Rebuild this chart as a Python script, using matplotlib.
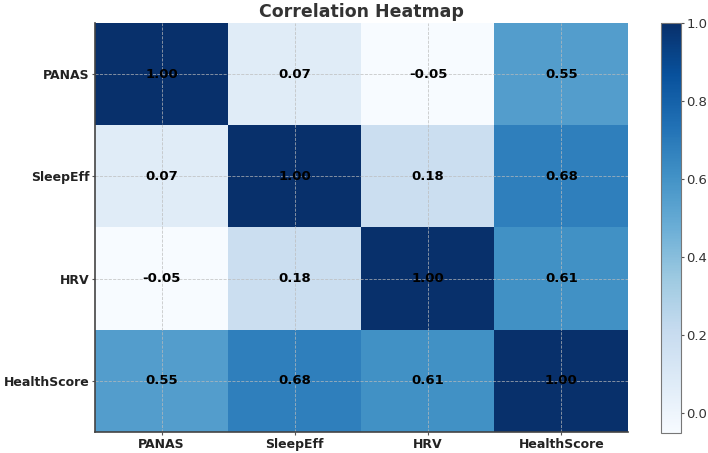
import numpy as np
import matplotlib
matplotlib.use("Agg")
from matplotlib import pyplot as plt

labels = ["PANAS", "SleepEff", "HRV", "HealthScore"]
corr = np.array([
    [1.00, 0.07, -0.05, 0.55],
    [0.07, 1.00, 0.18, 0.68],
    [-0.05, 0.18, 1.00, 0.61],
    [0.55, 0.68, 0.61, 1.00],
])

fig = plt.figure(figsize=(7.08, 4.53), dpi=100)
ax = fig.add_axes([95 / 708, 21 / 453, 533 / 708, 409 / 453])
cax = fig.add_axes([661 / 708, 20 / 453, 20 / 708, 410 / 453])

im = ax.imshow(corr, cmap="Blues", vmin=corr.min(), vmax=1.0, aspect="auto")

# 数值标注
for i in range(len(labels)):
    for j in range(len(labels)):
        ax.text(j, i, f"{corr[i, j]:.2f}", ha="center", va="center",
                color="black", fontsize=9.5, fontweight="bold")

ax.set_xticks(range(len(labels)))
ax.set_yticks(range(len(labels)))
ax.set_xticklabels(labels, fontsize=9, fontweight="bold", color="#222222")
ax.set_yticklabels(labels, fontsize=9, fontweight="bold", color="#222222")
ax.tick_params(length=2.5, pad=1.5, color="#555555")
ax.grid(True, linestyle="--", linewidth=0.6, color="#bbbbbb", alpha=0.8)
for side in ["top", "right"]:
    ax.spines[side].set_visible(False)
for side in ["left", "bottom"]:
    ax.spines[side].set_color("#444444")
    ax.spines[side].set_linewidth(1.2)

ax.set_title("Correlation Heatmap", fontsize=12.5, fontweight="bold", color="#333333", pad=4)

cb = fig.colorbar(im, cax=cax)
cb.outline.set_edgecolor("#777777")
cb.ax.tick_params(labelsize=9.5, length=2.5, pad=1.5, color="#555555", labelcolor="#333333")
cb.set_ticks([0.0, 0.2, 0.4, 0.6, 0.8, 1.0])

fig.savefig("out.png", dpi=100)
